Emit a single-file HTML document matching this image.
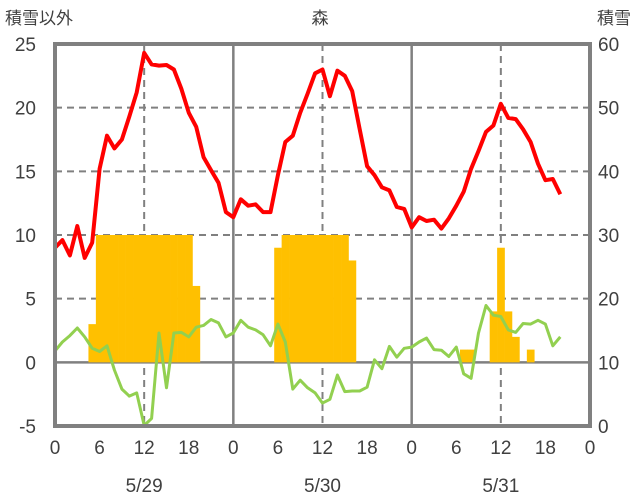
<!DOCTYPE html>
<html><head><meta charset="utf-8"><style>
html,body{margin:0;padding:0;background:#fff;}
svg{display:block;font-family:"Liberation Sans","Noto Sans CJK JP",sans-serif;}
</style></head><body>
<svg id="chart" width="636" height="501">
<text x="5" y="24" font-size="17" fill="#404040">積雪以外</text>
<text x="320" y="24" font-size="17" fill="#404040" text-anchor="middle">森</text>
<text x="631" y="24" font-size="17" fill="#404040" text-anchor="end">積雪</text>
<g id="grid"></g><g id="bars"></g><g id="lines"></g><g id="axes"></g>
</svg>
<script>
const leftTicks=[25,20,15,10,5,0,-5];
const rightTicks=[60,50,40,30,20,10,0];
const xTickLabels=["0","6","12","18","0","6","12","18","0","6","12","18","0"];
const dateLabels=["5/29","5/30","5/31"];
const snowHours=[5,6,7,8,9,10,11,12,13,14,15,16,17,18,19,30,31,32,33,34,35,36,37,38,39,40,55,56,59,60,61,62,64];
const snowValues=[3,10,10,10,10,10,10,10,10,10,10,10,10,10,6,9,10,10,10,10,10,10,10,10,10,8,1,1,4,9,4,2,1];
const tempRed=[9.0,9.6,8.4,10.7,8.2,9.4,15.2,17.8,16.8,17.5,19.3,21.2,24.3,23.4,23.3,23.35,23.0,21.5,19.6,18.5,16.1,15.1,14.1,11.8,11.4,
12.8,12.3,12.4,11.8,11.8,14.7,17.3,17.8,19.6,21.1,22.7,23.0,20.9,22.9,22.5,21.3,18.3,15.4,14.7,13.75,13.5,12.2,12.05,10.6,
11.4,11.1,11.2,10.5,11.3,12.3,13.4,15.2,16.6,18.1,18.6,20.3,19.2,19.1,18.3,17.3,15.6,14.3,14.4,13.2];
const tempGreen=[0.9,1.6,2.1,2.7,2.0,1.1,0.85,1.3,-0.6,-2.1,-2.65,-2.4,-4.96,-4.4,2.3,-2.0,2.3,2.35,2.0,2.76,2.9,3.36,3.1,2.0,2.3,
3.3,2.76,2.55,2.16,1.3,3.0,1.6,-2.1,-1.4,-2.0,-2.4,-3.2,-2.9,-1.0,-2.3,-2.25,-2.25,-1.95,0.2,-0.5,1.25,0.4,1.1,1.2,
1.6,1.9,1.0,0.95,0.46,1.2,-0.9,-1.25,2.3,4.46,3.7,3.6,2.55,2.35,3.05,3.0,3.3,3.0,1.3,2.0];

const NS="http://www.w3.org/2000/svg";
const X0=55,X1=590,Y0=44,Y1=426;
const xs=h=>X0+(X1-X0)*h/72;
const ys=v=>Y0+(Y1-Y0)*(25-v)/30;
function mk(tag,attrs,parent){const e=document.createElementNS(NS,tag);for(const k in attrs)e.setAttribute(k,attrs[k]);document.getElementById(parent).appendChild(e);return e;}
// grid
leftTicks.forEach(v=>{
  if(v===25||v===-5)return;
  const l=mk('line',{x1:X0,x2:X1,y1:ys(v),y2:ys(v),stroke:'#808080','stroke-width':v===0?2.5:2,'stroke-dasharray':v===0?'none':'7,5'},'grid');
  
  
});
for(let d=0;d<3;d++){
  if(d>0){const l=mk('line',{x1:xs(d*24),x2:xs(d*24),y1:Y0,y2:Y1,stroke:'#808080','stroke-width':2.5},'grid');
  
  }
  const m=mk('line',{x1:xs(d*24+12),x2:xs(d*24+12),y1:Y0,y2:Y1,stroke:'#808080','stroke-width':2,'stroke-dasharray':'7,5'},'grid');
  
  
}
// bars
snowHours.forEach((h,i)=>{
  const b=mk('rect',{x:xs(h-0.5),width:xs(1)-xs(0)+0.3,y:ys(snowValues[i]),height:ys(0)-ys(snowValues[i]),fill:'#ffc000'},'bars');
  
  
});
// lines
function line(arr,color,w,name){
  const p=arr.map((v,i)=>(i?'L':'M')+xs(i).toFixed(1)+','+ys(v).toFixed(1)).join('');
  const e=mk('path',{d:p,fill:'none',stroke:color,'stroke-width':w,'stroke-linejoin':'round'},'lines');
  
  
}
line(tempGreen,'#92d050',3,'green-series-line');
line(tempRed,'#ff0000',4,'red-series-line');
// border
const br=mk('rect',{x:X0,y:Y0,width:X1-X0,height:Y1-Y0,fill:'none',stroke:'#808080','stroke-width':4},'axes');


leftTicks.forEach(v=>{
  const t=mk('text',{x:36,y:ys(v)+7,'font-size':19,'text-anchor':'end',fill:'#404040'},'axes');t.textContent=v;
  
  
});
rightTicks.forEach((v,i)=>{
  const t=mk('text',{x:598,y:ys(leftTicks[i])+7,'font-size':19,fill:'#404040'},'axes');t.textContent=v;
  
  
});
xTickLabels.forEach((s,i)=>{
  const t=mk('text',{x:xs(i*6),y:454,'font-size':19,'text-anchor':'middle',fill:'#404040'},'axes');t.textContent=s;
  
  
});
dateLabels.forEach((s,i)=>{
  const t=mk('text',{x:xs(i*24+12),y:492,'font-size':19,'text-anchor':'middle',fill:'#404040'},'axes');t.textContent=s;
  
  
});
</script>
</body></html>
